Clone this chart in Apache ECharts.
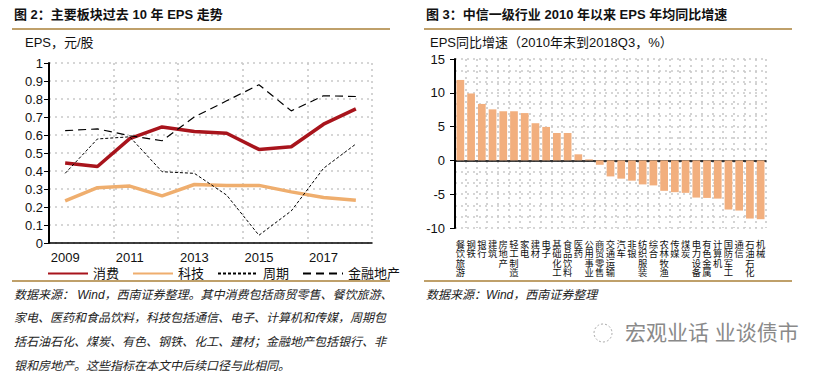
<!DOCTYPE html>
<html><head><meta charset="utf-8">
<script src="https://cdn.jsdelivr.net/npm/echarts@6/dist/echarts.min.js"></script>
<style>html,body{margin:0;padding:0;background:#fff}#c{width:814px;height:374px}</style>
</head><body><div id="c"></div>
<script>
// ---- Figure 2 data ----
const years = ['2009','2010','2011','2012','2013','2014','2015','2016','2017','2018'];
const consumption = [0.445,0.425,0.58,0.645,0.62,0.61,0.52,0.535,0.66,0.745];
const tech = [0.234,0.307,0.316,0.262,0.325,0.32,0.32,0.284,0.253,0.238];
const cyclical = [0.387,0.578,0.59,0.396,0.387,0.266,0.043,0.178,0.415,0.55];
const finance = [0.624,0.634,0.596,0.568,0.70,0.79,0.879,0.734,0.818,0.814];
const seriesNames = ['消费','科技','周期','金融地产'];
// ---- Figure 3 data ----
const industries = ['餐饮旅游','钢铁','银行','建筑','房地产','轻工制造','家电','建材','电子','基础化工','食品饮料','医药','公用事业','商贸零售','交通运输','汽车','非银','纺织服装','综合','农林牧渔','传媒','煤炭','电力设备','有色金属','计算机','国防军工','通信','石油石化','机械'];
const growth = [11.9,9.9,8.35,7.55,7.27,7.27,7.0,5.5,4.95,4.05,4.05,0.9,0.15,-0.65,-2.37,-2.7,-3.0,-3.55,-3.7,-4.5,-4.7,-4.8,-5.5,-5.55,-5.65,-7.27,-7.42,-8.6,-8.7];

const FONT = '"Liberation Sans","Noto Sans CJK SC",Arial,sans-serif';
const GOLD = '#BFA06A';
const GRID = {color:'#c9c9c9', width:1.6, type:[2,4]};
const chart = echarts.init(document.getElementById('c'), null, {renderer:'svg'});

const srcLeft = '数据来源： Wind，西南证券整理。其中消费包括商贸零售、餐饮旅游、\n家电、医药和食品饮料，科技包括通信、电子、计算机和传媒，周期包\n括石油石化、煤炭、有色、钢铁、化工、建材；金融地产包括银行、非\n银和房地产。这些指标在本文中后续口径与此相同。';

function txt(text, left, top, style){
  return {text, left, top, padding:0, textStyle:Object.assign({fontSize:13, fontWeight:'normal', color:'#111', fontFamily:FONT}, style||{})};
}

chart.setOption({
  animation:false,
  textStyle:{fontFamily:FONT},
  title:[
    txt('图 2：主要板块过去 10 年 EPS 走势', 14, 8, {fontWeight:'bold'}),
    txt('图 3：中信一级行业 2010 年以来 EPS 年均同比增速', 426, 8, {fontWeight:'bold'}),
    txt('EPS，元/股', 25, 36),
    txt('EPS同比增速（2010年末到2018Q3，%）', 430, 36),
    txt(srcLeft, 14, 283, {fontSize:12, fontStyle:'italic', color:'#222', lineHeight:23.6}),
    txt('数据来源：Wind，西南证券整理', 426, 289, {fontSize:12, fontStyle:'italic', color:'#222'}),
    txt('宏观业话 业谈债市', 625, 322, {fontSize:21, color:'#8a8a8a'})
  ],
  graphic:[
    {type:'line', shape:{x1:12,y1:29,x2:390,y2:29}, style:{stroke:GOLD, lineWidth:2}},
    {type:'line', shape:{x1:12,y1:281,x2:390,y2:281}, style:{stroke:GOLD, lineWidth:2}},
    {type:'line', shape:{x1:424,y1:29,x2:792,y2:29}, style:{stroke:GOLD, lineWidth:2}},
    {type:'line', shape:{x1:424,y1:281,x2:792,y2:281}, style:{stroke:GOLD, lineWidth:2}},
    {type:'circle', shape:{cx:603,cy:333,r:9}, style:{fill:'none', stroke:'#aaa', lineWidth:1, lineDash:[2,2]}}
  ],
  legend:{
    data:seriesNames, left:42, top:262, itemWidth:40, itemHeight:12, itemGap:13,
    itemStyle:{color:'rgba(0,0,0,0)', borderWidth:0, borderColor:'rgba(0,0,0,0)'},
    textStyle:{fontSize:13, color:'#111', fontFamily:FONT}
  },
  grid:[
    {left:49, top:63, width:323, height:180},
    {left:455, top:59, width:311, height:169}
  ],
  xAxis:[
    {type:'category', gridIndex:0, data:years, boundaryGap:true,
     axisLine:{lineStyle:{color:'#000', width:1.5}},
     axisTick:{interval:1, length:5, lineStyle:{color:'#000'}},
     axisLabel:{interval:1, fontSize:13, color:'#111', margin:8},
     splitLine:{show:true, interval:1, lineStyle:GRID}},
    {type:'category', gridIndex:1, data:industries, position:'top',
     axisLine:{onZero:true, lineStyle:{color:'#000', width:1.5}},
     axisTick:{inside:true, length:4, lineStyle:{color:'#000'}},
     axisLabel:{show:false}, splitLine:{show:false}},
    {type:'category', gridIndex:1, data:industries, position:'bottom',
     axisLine:{show:false, onZero:false}, axisTick:{show:false},
     axisLabel:{interval:0, fontSize:9.3, color:'#111', margin:12, lineHeight:9.5,
       formatter:v=>v.split('').join('\n')},
     splitLine:{show:true, lineStyle:GRID}}
  ],
  yAxis:[
    {type:'value', gridIndex:0, min:0, max:1, interval:0.1,
     axisLine:{show:true, lineStyle:{color:'#000', width:2}},
     axisTick:{show:true, length:5, lineStyle:{color:'#000'}},
     axisLabel:{fontSize:13, color:'#111', margin:6, formatter:v=>String(Math.round(v*10)/10)},
     splitLine:{lineStyle:GRID}},
    {type:'value', gridIndex:1, min:-10, max:15, interval:5,
     axisLine:{show:true, lineStyle:{color:'#000', width:2}},
     axisTick:{show:true, length:5, lineStyle:{color:'#000'}},
     axisLabel:{fontSize:13, color:'#111', margin:10},
     splitLine:{lineStyle:GRID},
     minorTick:{show:false, splitNumber:3},
     minorSplitLine:{show:true, lineStyle:GRID}}
  ],
  series:[
    {name:'消费', type:'line', xAxisIndex:0, yAxisIndex:0, data:consumption, symbol:'none',
     lineStyle:{color:'#A8141C', width:3.5}, itemStyle:{color:'#A8141C'}},
    {name:'科技', type:'line', xAxisIndex:0, yAxisIndex:0, data:tech, symbol:'none',
     lineStyle:{color:'#EFAE6E', width:3.5}, itemStyle:{color:'#EFAE6E'}},
    {name:'周期', type:'line', xAxisIndex:0, yAxisIndex:0, data:cyclical, symbol:'none',
     lineStyle:{color:'#000', width:1, type:[3,2]}, itemStyle:{color:'#000'}},
    {name:'金融地产', type:'line', xAxisIndex:0, yAxisIndex:0, data:finance, symbol:'none',
     lineStyle:{color:'#000', width:1.2, type:[8,5]}, itemStyle:{color:'#000'}},
    {name:'EPS同比增速', type:'bar', xAxisIndex:1, yAxisIndex:1, data:growth,
     barCategoryGap:'28%', itemStyle:{color:'#F2AF7E'}}
  ]
});
</script></body></html>
